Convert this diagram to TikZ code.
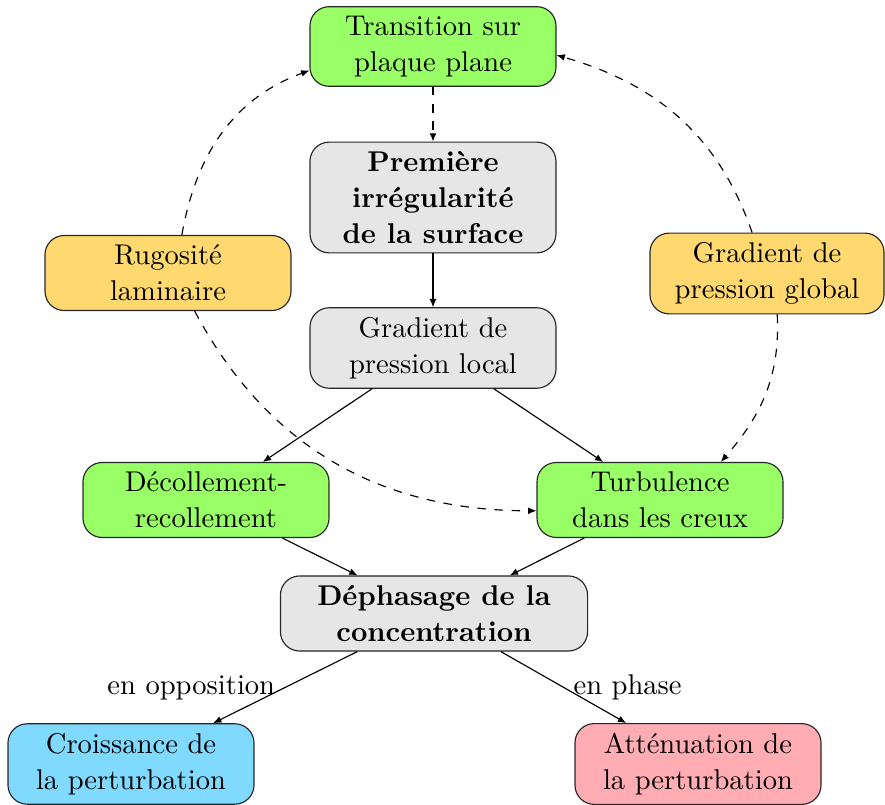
\documentclass[tikz,border=0pt]{standalone}
\usetikzlibrary{arrows.meta}
\definecolor{cgreen}{RGB}{153,255,102}
\definecolor{cgray}{RGB}{230,230,230}
\definecolor{cyellow}{RGB}{255,217,112}
\definecolor{cblue}{RGB}{128,217,255}
\definecolor{cpink}{RGB}{255,173,179}
\begin{document}
\fontsize{10}{12.5}\selectfont
\begin{tikzpicture}[x=0.35pt,y=0.35pt,
  >={Latex[length=2.9pt,width=2.4pt]},
  box/.style={draw=black!85, rounded corners=6.7pt, align=center, minimum width=86.1pt, inner sep=3.33pt},
  boldbox/.style={box, font=\bfseries},
  link/.style={->, line width=0.4pt},
  dlink/.style={->, dashed, line width=0.4pt}]
\useasboundingbox (0,0) rectangle (885,-805);
\node[box,fill=cgreen] (trans) at (433,-46.5) {Transition sur\\plaque plane};
\node[boldbox,fill=cgray] (prem) at (433,-197.5) {Première\\irrégularité\\de la surface};
\node[box,fill=cgray] (gloc) at (433,-348) {Gradient de\\pression local};
\node[box,fill=cyellow] (rug) at (168,-273) {Rugosité\\laminaire};
\node[box,fill=cyellow,minimum width=81.9pt] (glob) at (767,-273.5) {Gradient de\\pression global};
\node[box,fill=cgreen] (dec) at (206,-500) {Décollement-\\recollement};
\node[box,fill=cgreen] (turb) at (660,-500) {Turbulence\\dans les creux};
\node[boldbox,fill=cgray,minimum width=107.5pt] (deph) at (434,-613.5) {Déphasage de la\\concentration};
\node[box,fill=cblue] (crois) at (131,-764) {Croissance de\\la perturbation};
\node[box,fill=cpink] (att) at (698,-764) {Atténuation de\\la perturbation};

\draw[dlink] (trans) -- (prem);
\draw[link] (prem) -- (gloc);
\draw[link] (gloc) -- (dec);
\draw[link] (gloc) -- (turb);
\draw[link] (dec) -- (deph);
\draw[link] (turb) -- (deph);
\draw[link] (deph) -- node[midway,left] {en opposition} (crois);
\draw[link] (deph) -- node[midway,right] {en phase} (att);
\draw[dlink] (rug.70) to[out=80,in=200] (trans.191);
\draw[dlink] (glob.110) to[out=109,in=-16] (trans.-4);
\draw[dlink] (rug.-55) to[out=-62,in=180] (turb.185);
\draw[dlink] (glob.-76) to[out=-87,in=49] (turb.32);
\end{tikzpicture}
\end{document}
